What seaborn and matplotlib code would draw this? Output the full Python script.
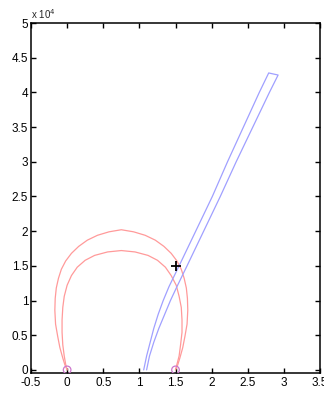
import matplotlib
matplotlib.use("Agg")
import matplotlib.pyplot as plt
import seaborn as sns
import pandas as pd

# ---- data (y in units of 1e4) ----
outer_x = [0.0, -0.03, -0.06, -0.10, -0.13, -0.16, -0.17, -0.165, -0.15, -0.12, -0.08, -0.02, 0.06, 0.16, 0.28,
           0.42, 0.58, 0.75, 0.92, 1.08, 1.22, 1.34, 1.44, 1.52, 1.58, 1.62, 1.65, 1.665, 1.67, 1.66, 1.63,
           1.60, 1.56, 1.53, 1.5]
outer_y = [0.0, 0.07, 0.17, 0.32, 0.48, 0.66, 0.86, 1.03, 1.18, 1.32, 1.45, 1.57, 1.68, 1.78, 1.87,
           1.94, 1.99, 2.02, 1.99, 1.94, 1.87, 1.78, 1.68, 1.57, 1.45, 1.32, 1.18, 1.03, 0.86, 0.66, 0.48,
           0.32, 0.17, 0.07, 0.0]

inner_x = [0.0, -0.02, -0.04, -0.06, -0.07, -0.07, -0.06, -0.04, 0.0, 0.06, 0.14, 0.25, 0.38, 0.56, 0.75,
           0.94, 1.12, 1.25, 1.36, 1.44, 1.51, 1.55, 1.58, 1.59, 1.59, 1.57, 1.55, 1.52, 1.5]
inner_y = [0.0, 0.08, 0.20, 0.36, 0.54, 0.72, 0.90, 1.06, 1.22, 1.36, 1.48, 1.58, 1.65, 1.70, 1.72,
           1.70, 1.65, 1.58, 1.48, 1.36, 1.22, 1.06, 0.90, 0.72, 0.54, 0.36, 0.20, 0.08, 0.0]

band_x = [1.06, 1.10, 1.15, 1.20, 1.26, 1.33, 1.41, 1.55, 1.78, 2.01, 2.22, 2.44, 2.66, 2.79,
          2.92, 2.80, 2.57, 2.34, 2.12, 1.89, 1.66, 1.52, 1.43, 1.35, 1.27, 1.20, 1.14, 1.10]
band_y = [0.0, 0.2, 0.4, 0.6, 0.8, 1.0, 1.2, 1.5, 2.0, 2.5, 3.0, 3.5, 4.0, 4.28,
          4.25, 4.0, 3.5, 3.0, 2.5, 2.0, 1.5, 1.2, 1.0, 0.8, 0.6, 0.4, 0.2, 0.0]

end_x = [0.0, 1.5]
end_y = [0.0, 0.0]

cross_x = [1.51]
cross_y = [1.50]

x_ticks = [-0.5, 0, 0.5, 1, 1.5, 2, 2.5, 3, 3.5]
x_labels = ["-0.5", "0", "0.5", "1", "1.5", "2", "2.5", "3", "3.5"]
y_ticks = [0, 0.5, 1, 1.5, 2, 2.5, 3, 3.5, 4, 4.5, 5]
y_labels = ["0", "0.5", "1", "1.5", "2", "2.5", "3", "3.5", "4", "4.5", "5"]

sns.set_style("ticks")
plt.rcParams['font.family'] = ['Liberation Sans', 'DejaVu Sans']

fig = plt.figure(figsize=(3.24, 3.94), dpi=100)
ax = fig.add_axes([31/324, 21/394, 289/324, 350/394])

df_outer = pd.DataFrame({"x": outer_x, "y": outer_y})
df_inner = pd.DataFrame({"x": inner_x, "y": inner_y})
df_band = pd.DataFrame({"x": band_x, "y": band_y})

sns.lineplot(data=df_outer, x="x", y="y", sort=False, estimator=None, color="#ff9a9a", lw=0.9, ax=ax)
sns.lineplot(data=df_inner, x="x", y="y", sort=False, estimator=None, color="#ff9a9a", lw=0.9, ax=ax)
sns.lineplot(data=df_band, x="x", y="y", sort=False, estimator=None, color="#a0a0ff", lw=0.9, ax=ax)

sns.scatterplot(x=end_x, y=end_y, marker="o", s=30, facecolor="none", edgecolor="#cc77cc", linewidth=0.9, ax=ax, zorder=5)
sns.scatterplot(x=cross_x, y=cross_y, marker="+", s=45, color="black", linewidth=1.3, ax=ax, zorder=6)

ax.set_xlim(-0.5, 3.5)
ax.set_ylim(-0.045, 5)
ax.set_xticks(x_ticks)
ax.set_xticklabels(x_labels)
ax.set_yticks(y_ticks)
ax.set_yticklabels(y_labels)
ax.set_xlabel("")
ax.set_ylabel("")
ax.tick_params(direction="in", top=True, right=True, length=3.5, width=1, labelsize=8.5, colors="black")
ax.tick_params(axis="x", pad=3)
ax.tick_params(axis="y", pad=2)
for sp in ax.spines.values():
    sp.set_visible(True)
    sp.set_linewidth(1.1)
    sp.set_color("black")

ax.text(0.0, 1.005, "x 10$^{4}$", transform=ax.transAxes, fontsize=7, ha="left", va="bottom")

fig.savefig("out.png", dpi=100)
